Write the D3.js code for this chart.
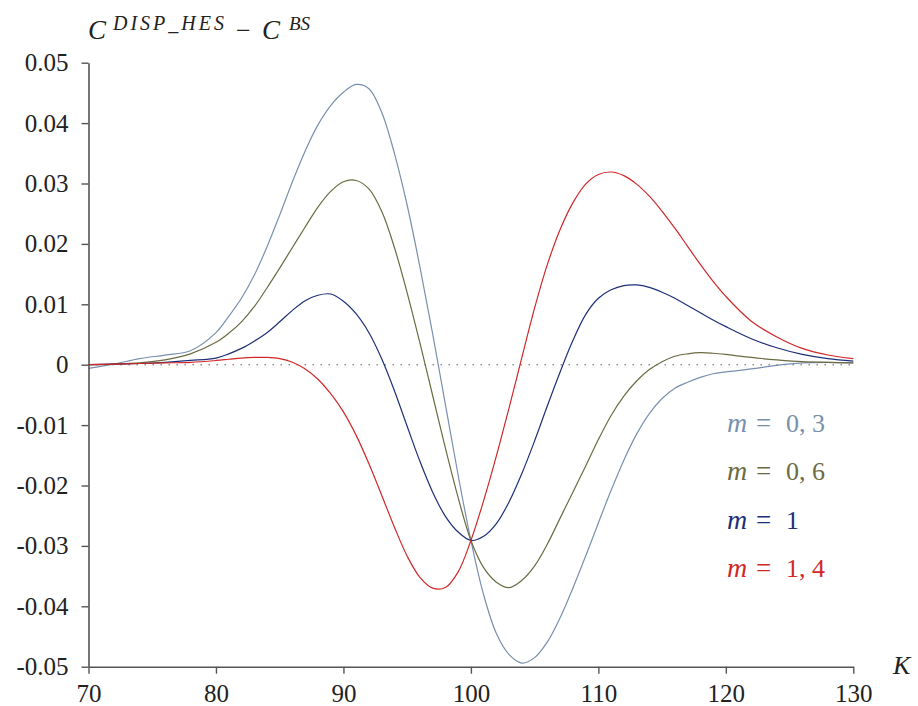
<!DOCTYPE html>
<html>
<head>
<meta charset="utf-8">
<script src="https://cdn.jsdelivr.net/npm/d3@7"></script>
<style>
  html, body { margin: 0; padding: 0; background: #fff; }
  svg text { font-family: "Liberation Serif", "DejaVu Serif", serif; }
</style>
</head>
<body>
<svg id="chart" width="918" height="706"></svg>
<script>
// ---- data ----
const strikes = [70,72,74,76,78,80,81,82,83,84,85,86,87,88,89,90,91,92,93,94,95,96,97,98,99,100,
  101,102,103,104,105,106,107,108,109,110,111,112,113,114,115,116,117,118,119,120,122,124,126,128,130];

const seriesM = ["0, 3", "0, 6", "1", "1, 4"];

// m = 0,3
const m03 = [-0.0006,0.0001,0.0010,0.0016,0.0023,
  0.0053,0.0080,0.0110,0.0148,0.0195,0.0248,0.0303,0.0354,0.0397,0.0429,
  0.0451,0.0464,0.0457,0.0418,0.0350,0.0264,0.0162,0.0051,-0.0066,-0.0183,
  -0.0291,-0.0381,-0.0445,-0.0480,-0.0494,-0.0485,-0.0459,-0.0419,-0.0370,-0.0317,
  -0.0262,-0.0208,-0.0158,-0.0115,-0.0081,-0.0056,-0.0039,-0.0029,-0.0021,-0.0015,
  -0.0012,-0.0007,-0.0001,0.0003,0.0004,0.0003];

// m = 0,6
const m06 = [0.0000,0.0001,0.0003,0.0008,0.0018,
  0.0037,0.0052,0.0071,0.0096,0.0127,0.0160,0.0194,0.0228,0.0261,0.0287,
  0.0303,0.0305,0.0291,0.0254,0.0194,0.0119,0.0036,-0.0051,-0.0138,-0.0220,
  -0.0291,-0.0336,-0.0360,-0.0369,-0.0357,-0.0333,-0.0297,-0.0254,-0.0211,-0.0168,
  -0.0124,-0.0084,-0.0052,-0.0027,-0.0008,0.0005,0.0014,0.0018,0.0020,0.0019,
  0.0017,0.0012,0.0008,0.0005,0.0004,0.0003];

// m = 1
const m10 = [0.0000,0.0001,0.0002,0.0004,0.0007,
  0.0011,0.0018,0.0027,0.0039,0.0053,0.0071,0.0090,0.0106,0.0115,0.0117,
  0.0105,0.0084,0.0053,0.0010,-0.0043,-0.0102,-0.0160,-0.0211,-0.0251,-0.0277,
  -0.0291,-0.0284,-0.0263,-0.0227,-0.0180,-0.0126,-0.0068,-0.0012,0.0040,0.0083,
  0.0110,0.0124,0.0131,0.0132,0.0128,0.0120,0.0110,0.0098,0.0086,0.0074,
  0.0063,0.0043,0.0028,0.0017,0.0010,0.0006];

// m = 1,4
const m14 = [0.0000,0.0001,0.0002,0.0003,0.0004,
  0.0007,0.0009,0.0011,0.0012,0.0012,0.0010,0.0004,-0.0007,-0.0024,-0.0048,
  -0.0078,-0.0117,-0.0164,-0.0216,-0.0269,-0.0317,-0.0352,-0.0370,-0.0369,-0.0343,
  -0.0291,-0.0225,-0.0151,-0.0071,0.0012,0.0094,0.0166,0.0224,0.0268,0.0299,
  0.0315,0.0319,0.0313,0.0299,0.0279,0.0254,0.0226,0.0196,0.0166,0.0138,
  0.0113,0.0072,0.0046,0.0027,0.0016,0.0010];

const xTicks = [70,80,90,100,110,120,130];
const yTicks = [-0.05,-0.04,-0.03,-0.02,-0.01,0,0.01,0.02,0.03,0.04,0.05];
const yTickLabels = ["-0.05","-0.04","-0.03","-0.02","-0.01","0","0.01","0.02","0.03","0.04","0.05"];

// ---- drawing ----
const colors = ["#7990ad", "#6b6b42", "#1d2f78", "#d02828"];
const allSeries = [m03, m06, m10, m14];

const svg = d3.select("#chart");
const plotL = 88.5, plotR = 853.3, plotT = 62.7, plotB = 666.7;

const x = d3.scaleLinear().domain([70,130]).range([plotL, plotR]);
const y = d3.scaleLinear().domain([-0.05,0.05]).range([plotB, plotT]);

// zero dotted line
svg.append("line")
  .attr("x1", x(70)).attr("x2", x(130))
  .attr("y1", y(0)).attr("y2", y(0))
  .attr("stroke", "#8a8a8a").attr("stroke-width", 1.4)
  .attr("stroke-dasharray", "1.4,6.6");

// curves
const line = d3.line()
  .x(d => x(d[0])).y(d => y(d[1]))
  .curve(d3.curveCatmullRom.alpha(0.5));

allSeries.forEach((vals, i) => {
  svg.append("path")
    .datum(strikes.map((k, j) => [k, vals[j]]))
    .attr("fill", "none")
    .attr("stroke", colors[i])
    .attr("stroke-width", 1.2)
    .attr("d", line);
});

// axes
const axisColor = "#555";
const xAxis = svg.append("g")
  .attr("transform", `translate(0,${plotB})`)
  .call(d3.axisBottom(x).tickValues(xTicks).tickSize(7).tickPadding(11).tickSizeOuter(0)
        .tickFormat(d3.format("d")));
const yAxis = svg.append("g")
  .attr("transform", `translate(${plotL},0)`)
  .call(d3.axisLeft(y).tickValues(yTicks).tickSize(7).tickPadding(13).tickSizeOuter(0)
        .tickFormat((d, i) => yTickLabels[i]));

[xAxis, yAxis].forEach(g => {
  g.attr("font-family", null).attr("font-size", null);
  g.select(".domain").attr("stroke", axisColor).attr("stroke-width", 1.6);
  g.selectAll(".tick line").attr("stroke", axisColor).attr("stroke-width", 1.4);
  g.selectAll(".tick text")
    .attr("fill", "#222")
    .style("font-family", '"Liberation Serif", serif')
    .style("font-size", "25px");
});

// title: C^{DISP_HES} - C^{BS}
const titleG = svg.append("g").attr("fill", "#222");
titleG.append("text").attr("x", 88).attr("y", 39)
  .attr("font-style", "italic").style("font-size", "27px").text("C");
titleG.append("text").attr("x", 113).attr("y", 29.5)
  .attr("font-style", "italic").style("font-size", "20px")
  .attr("textLength", 111).attr("lengthAdjust", "spacing").text("DISP_HES");
titleG.append("text").attr("x", 236).attr("y", 39)
  .style("font-size", "26px").text("\u2212");
titleG.append("text").attr("x", 262).attr("y", 39)
  .attr("font-style", "italic").style("font-size", "27px").text("C");
titleG.append("text").attr("x", 289).attr("y", 29.5)
  .attr("font-style", "italic").style("font-size", "19px").text("BS");

// x axis label
svg.append("text")
  .attr("x", 893).attr("y", 674)
  .attr("fill", "#222")
  .attr("font-style", "italic")
  .style("font-size", "26px")
  .text("K");

// legend
const legend = svg.append("g");
seriesM.forEach((mv, i) => {
  const yy = 432 + i * 48.3;
  const g = legend.append("g").attr("fill", colors[i]);
  g.append("text").attr("x", 727).attr("y", yy)
    .attr("font-style", "italic").style("font-size", "28px").text("m");
  g.append("text").attr("x", 756).attr("y", yy)
    .style("font-size", "27px").text("=");
  g.append("text").attr("x", 786).attr("y", yy)
    .style("font-size", "26px").text(mv);
});
</script>
</body>
</html>
